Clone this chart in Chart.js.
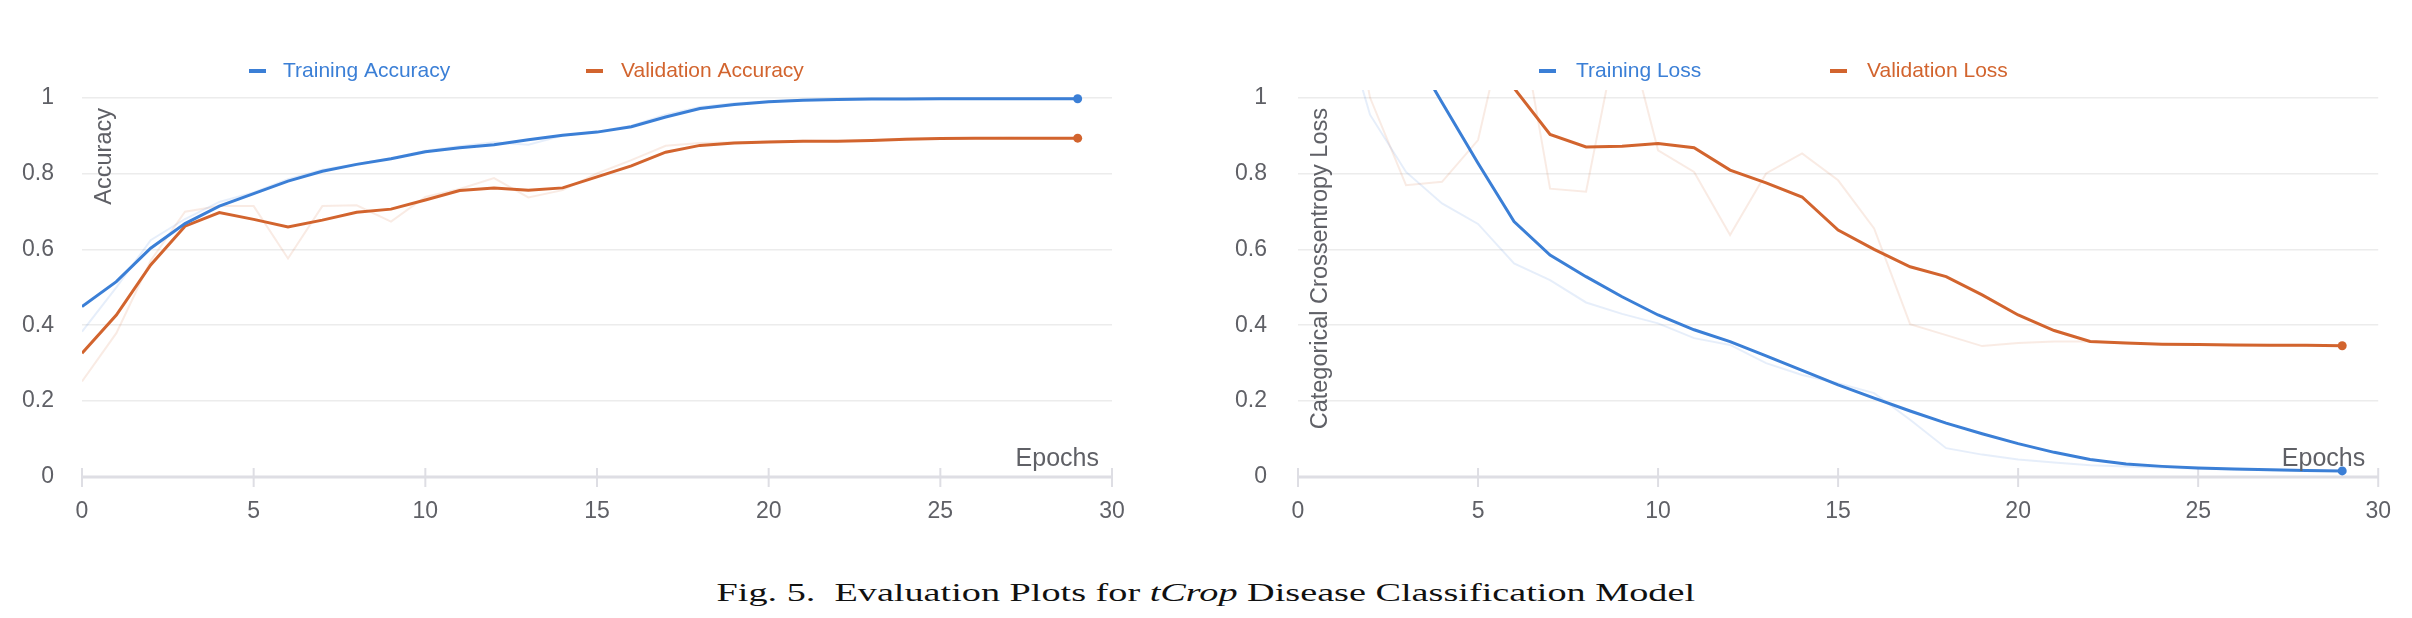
<!DOCTYPE html>
<html>
<head>
<meta charset="utf-8">
<script src="https://cdn.jsdelivr.net/npm/chart.js@4.4.0/dist/chart.umd.min.js"></script>
<style>
html,body{margin:0;padding:0;background:#fff;}
#wrap{position:relative;width:2412px;height:618px;overflow:hidden;background:#fff;}
canvas{position:absolute;top:0;}
#c1{left:0;}
#c2{left:1200px;}
#cap{position:absolute;left:0;top:578px;width:2412px;text-align:center;font-family:"Liberation Serif","Times New Roman",serif;font-size:26px;line-height:30px;color:#111;white-space:nowrap;}
#cap .inner{display:inline-block;transform:scaleX(1.47);transform-origin:center;}
</style>
</head>
<body>
<div id="wrap">
  <canvas id="c1" width="1200" height="540"></canvas>
  <canvas id="c2" width="1212" height="540"></canvas>
  <div id="cap"><span class="inner">Fig. 5.&nbsp; Evaluation Plots for <i>tCrop</i> Disease Classification Model</span></div>
</div>
<script>
// ---------- data ----------
const epochs = [0,1,2,3,4,5,6,7,8,9,10,11,12,13,14,15,16,17,18,19,20,21,22,23,24,25,26,27,28,29];
const xTicks = [0,5,10,15,20,25,30];
const yTicks = [0,0.2,0.4,0.6,0.8,1];

const accSeriesNames = ['Training Accuracy','Validation Accuracy'];
const lossSeriesNames = ['Training Loss','Validation Loss'];

const trainAccSmooth = [0.449,0.515,0.603,0.668,0.714,0.747,0.780,0.806,0.824,0.839,0.857,0.868,0.876,0.889,0.901,0.909,0.923,0.949,0.971,0.982,0.989,0.993,0.995,0.996,0.996,0.997,0.997,0.997,0.997,0.997];
const valAccSmooth   = [0.326,0.427,0.559,0.661,0.697,0.679,0.659,0.677,0.698,0.706,0.730,0.755,0.762,0.756,0.762,0.791,0.820,0.856,0.874,0.880,0.883,0.885,0.885,0.887,0.890,0.892,0.893,0.893,0.893,0.893];
const trainAccRaw    = [0.383,0.500,0.624,0.680,0.725,0.750,0.785,0.810,0.825,0.840,0.860,0.872,0.882,0.876,0.900,0.910,0.926,0.955,0.975,0.985,0.990,0.994,0.996,0.997,0.997,0.998,0.998,0.998,0.998,0.998];
const valAccRaw      = [0.252,0.379,0.570,0.699,0.714,0.714,0.576,0.714,0.716,0.673,0.738,0.759,0.788,0.737,0.756,0.800,0.835,0.873,0.880,0.882,0.884,0.886,0.885,0.888,0.892,0.893,0.893,0.894,0.893,0.893];

const trainLossSmooth = [1.62,1.45,1.30,1.15,0.987,0.827,0.673,0.585,0.528,0.475,0.427,0.388,0.357,0.319,0.281,0.243,0.208,0.174,0.142,0.114,0.088,0.065,0.046,0.034,0.028,0.024,0.021,0.019,0.017,0.016];
const valLossSmooth   = [1.90,1.70,1.50,1.35,1.20,1.12,1.025,0.903,0.870,0.872,0.879,0.868,0.809,0.775,0.738,0.651,0.600,0.554,0.528,0.480,0.427,0.386,0.357,0.353,0.350,0.349,0.348,0.347,0.347,0.346];
const trainLossRaw    = [1.70,1.28,0.955,0.804,0.721,0.667,0.563,0.519,0.460,0.430,0.405,0.366,0.348,0.300,0.269,0.247,0.221,0.151,0.076,0.059,0.046,0.038,0.031,0.028,0.025,0.022,0.020,0.018,0.017,0.016];
const valLossRaw      = [2.00,1.50,1.00,0.769,0.778,0.888,1.30,0.760,0.752,1.23,0.861,0.804,0.638,0.800,0.853,0.782,0.655,0.403,0.374,0.345,0.353,0.357,0.357,0.352,0.350,0.348,0.347,0.347,0.346,0.346];

// ---------- style ----------
const BLUE = 'rgb(59,127,214)';
const ORANGE = 'rgb(210,100,46)';
const BLUE_FAINT = 'rgba(59,127,214,0.13)';
const ORANGE_FAINT = 'rgba(210,100,46,0.13)';
const TEXT = '#5f6066';
const GRID = '#ececec';
const AXIS = '#dedee4';
const FONT = "'Liberation Sans', Arial, Helvetica, sans-serif";
Chart.defaults.font.family = FONT;

function pts(vals){ return epochs.map((e,i)=>({x:e, y:vals[i]})); }
const lastDot = ctx => (ctx.dataIndex === epochs.length - 1 ? 4.5 : 0);

const decor = {
  id: 'decor',
  beforeDatasetsDraw(chart, args, o) {
    const {ctx, chartArea: a, scales: {x}} = chart;
    ctx.save();
    ctx.strokeStyle = AXIS;
    ctx.lineWidth = 3;
    ctx.beginPath(); ctx.moveTo(a.left, a.bottom); ctx.lineTo(a.right, a.bottom); ctx.stroke();
    ctx.lineWidth = 2;
    x.ticks.forEach(t => {
      const px = x.getPixelForValue(t.value);
      ctx.beginPath(); ctx.moveTo(px, a.bottom - 9); ctx.lineTo(px, a.bottom + 10); ctx.stroke();
    });
    ctx.restore();
  },
  afterDraw(chart, args, o) {
    const {ctx, chartArea: a} = chart;
    ctx.save();
    // legend
    ctx.textBaseline = 'middle';
    ctx.textAlign = 'left';
    ctx.font = '21px ' + FONT;
    o.legend.forEach((it, i) => {
      const ds = chart.data.datasets[i];
      ctx.fillStyle = ds.borderColor;
      ctx.fillRect(it.x, o.legendY - 2, 17, 4);
      ctx.fillText(ds.label, it.x + it.gap, o.legendY);
    });
    // x title
    ctx.fillStyle = TEXT;
    ctx.font = '25px ' + FONT;
    ctx.textAlign = 'right';
    ctx.fillText(o.xTitle, a.right - 13, a.bottom - 18);
    // y title (rotated, inside plot, top-aligned)
    ctx.font = '23.5px ' + FONT;
    ctx.translate(a.left + 23, a.top + 18);
    ctx.rotate(-Math.PI / 2);
    ctx.textAlign = 'right';
    ctx.textBaseline = 'middle';
    ctx.fillText(o.yTitle, 0, 0);
    ctx.restore();
  }
};

function makeChart(id, cfg) {
  return new Chart(document.getElementById(id), {
    type: 'line',
    data: {
      datasets: [
        {label: cfg.names[0], data: pts(cfg.smooth[0]), borderColor: BLUE, backgroundColor: BLUE, borderWidth: 3,
         pointRadius: lastDot, pointBackgroundColor: BLUE, pointBorderWidth: 0, pointHoverRadius: 0, tension: 0, order: 0},
        {label: cfg.names[1], data: pts(cfg.smooth[1]), borderColor: ORANGE, backgroundColor: ORANGE, borderWidth: 3,
         pointRadius: lastDot, pointBackgroundColor: ORANGE, pointBorderWidth: 0, pointHoverRadius: 0, tension: 0, order: 0},
        {label: cfg.names[0] + ' (raw)', data: pts(cfg.raw[0]), borderColor: BLUE_FAINT, borderWidth: 2,
         pointRadius: 0, tension: 0, order: 1},
        {label: cfg.names[1] + ' (raw)', data: pts(cfg.raw[1]), borderColor: ORANGE_FAINT, borderWidth: 2,
         pointRadius: 0, tension: 0, order: 1}
      ]
    },
    options: {
      responsive: false,
      animation: false,
      devicePixelRatio: 1,
      events: [],
      layout: {padding: {left: 0, right: cfg.padRight, top: 90, bottom: 0}},
      scales: {
        x: {
          type: 'linear', min: 0, max: 30,
          grid: {display: false, drawTicks: false},
          border: {display: false},
          ticks: {stepSize: 5, autoSkip: false, maxRotation: 0, color: TEXT, font: {size: 23}, padding: 21},
          afterBuildTicks: s => { s.ticks = xTicks.map(v => ({value: v})); },
          afterFit: s => { s.height = 63; }
        },
        y: {
          type: 'linear', min: 0, max: 1.02,
          grid: {color: c => (c.tick && c.tick.value === 0) ? 'rgba(0,0,0,0)' : GRID, lineWidth: 1.5, drawTicks: false},
          border: {display: false},
          ticks: {stepSize: 0.2, color: TEXT, font: {size: 23}, padding: cfg.yPad,
                  callback: v => String(Math.round(v * 10) / 10)},
          afterBuildTicks: s => { s.ticks = yTicks.map(v => ({value: v})); },
          afterFit: s => { s.width = cfg.yWidth; }
        }
      },
      plugins: {
        legend: {display: false},
        tooltip: {enabled: false},
        decor: {legend: cfg.legend, legendY: 71, xTitle: 'Epochs', yTitle: cfg.yTitle}
      }
    },
    plugins: [decor]
  });
}

makeChart('c1', {
  names: accSeriesNames,
  smooth: [trainAccSmooth, valAccSmooth],
  raw: [trainAccRaw, valAccRaw],
  yTitle: 'Accuracy',
  yWidth: 82, yPad: 28, padRight: 88,
  legend: [{x: 249, gap: 34}, {x: 586, gap: 35}]
});
makeChart('c2', {
  names: lossSeriesNames,
  smooth: [trainLossSmooth, valLossSmooth],
  raw: [trainLossRaw, valLossRaw],
  yTitle: 'Categorical Crossentropy Loss',
  yWidth: 98, yPad: 31, padRight: 27,
  legend: [{x: 339, gap: 37}, {x: 630, gap: 37}]
});
</script>
</body>
</html>
